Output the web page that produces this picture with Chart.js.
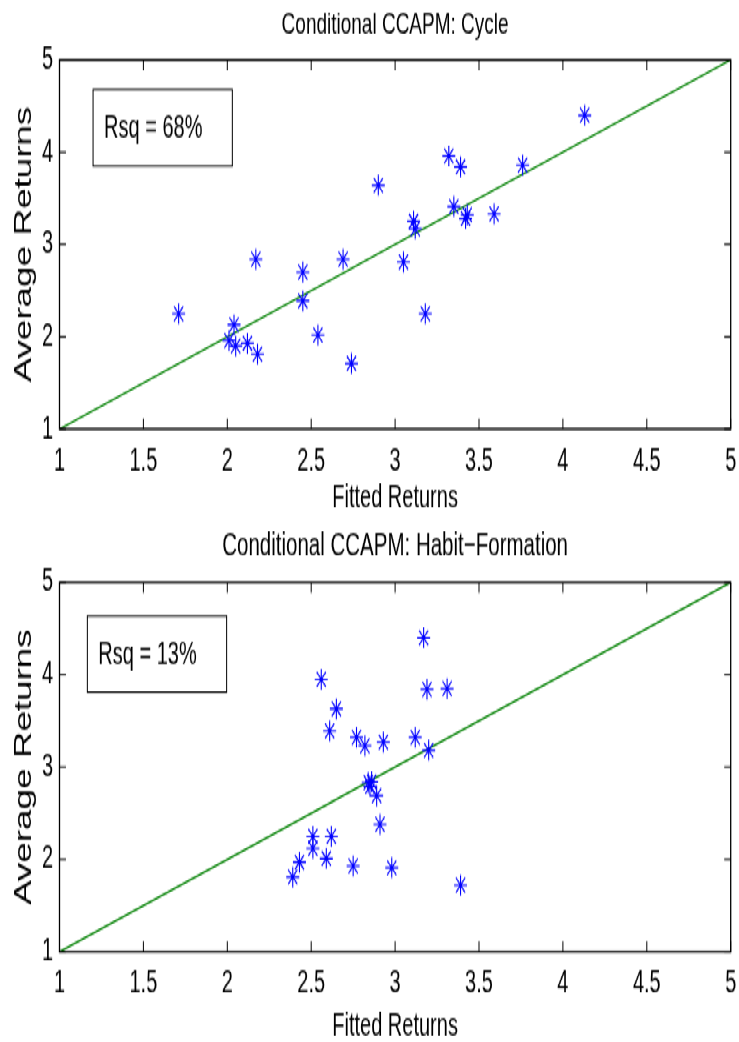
<!DOCTYPE html>
<html>
<head>
<meta charset="utf-8">
<script src="https://cdn.jsdelivr.net/npm/chart.js@4.4.0/dist/chart.umd.min.js"></script>
<style>
  html, body { margin: 0; padding: 0; background: #fff; width: 739px; height: 1042px; overflow: hidden; }
  /* the figure is drawn at 739x651 and stretched vertically like the exported plot */
  #figure { width: 739px; height: 651px; transform: scaleY(1.6006); transform-origin: 0 0; }
  canvas { display: block; }
</style>
</head>
<body>
<div id="figure">
  <canvas id="cycle" width="739" height="326"></canvas>
  <canvas id="habit" width="739" height="325"></canvas>
</div>
<script>
// Conditional CCAPM, cycle specification
const cycleFitted  = [1.71, 2.01, 2.04, 2.05, 2.12, 2.18, 2.17, 2.45, 2.45, 2.54, 2.69, 2.74, 2.90,
                      3.05, 3.18, 3.11, 3.12, 3.32, 3.39, 3.35, 3.42, 3.43, 3.59, 3.76, 4.13];
const cycleAverage = [2.25, 1.96, 2.13, 1.90, 1.93, 1.81, 2.84, 2.70, 2.39, 2.02, 2.84, 1.71, 3.64,
                      2.81, 2.25, 3.25, 3.17, 3.96, 3.84, 3.41, 3.28, 3.32, 3.33, 3.86, 4.40];

// Conditional CCAPM, habit-formation specification
const habitFitted  = [3.17, 2.56, 2.65, 2.61, 3.19, 3.31, 2.77, 2.82, 2.93, 3.12, 3.20, 2.84, 2.86,
                      2.85, 2.89, 2.91, 2.51, 2.62, 2.51, 2.59, 2.43, 2.39, 2.75, 2.98, 3.39];
const habitAverage = [4.40, 3.95, 3.63, 3.39, 3.84, 3.85, 3.32, 3.23, 3.27, 3.32, 3.18, 2.83, 2.84,
                      2.79, 2.69, 2.38, 2.25, 2.25, 2.12, 2.01, 1.97, 1.81, 1.93, 1.91, 1.72];

const xTicks = [1, 1.5, 2, 2.5, 3, 3.5, 4, 4.5, 5];
const yTicks = [1, 2, 3, 4, 5];
const FONT = "'Liberation Sans', Arial, Helvetica, sans-serif";

// box, inward ticks on all four sides, title and the Rsq text box
const matlabAxes = {
  id: 'matlabAxes',
  afterDatasetsDraw(chart, args, opts) {
    const { ctx, chartArea: a, scales: { x, y } } = chart;
    const tick = 6.5;
    ctx.save();
    ctx.strokeStyle = '#000';
    ctx.lineWidth = 1;
    ctx.beginPath();
    xTicks.forEach(v => {
      const px = x.getPixelForValue(v);
      ctx.moveTo(px, a.bottom); ctx.lineTo(px, a.bottom - tick);
      ctx.moveTo(px, a.top);    ctx.lineTo(px, a.top + tick);
    });
    yTicks.forEach(v => {
      const py = y.getPixelForValue(v);
      ctx.moveTo(a.left, py);  ctx.lineTo(a.left + tick, py);
      ctx.moveTo(a.right, py); ctx.lineTo(a.right - tick, py);
    });
    ctx.stroke();
    ctx.lineWidth = 1.3;
    ctx.strokeRect(a.left, a.top, a.right - a.left, a.bottom - a.top);

    // Rsq annotation
    const bx0 = x.getPixelForValue(opts.box[0]), bx1 = x.getPixelForValue(opts.box[1]);
    const by0 = y.getPixelForValue(opts.box[2]), by1 = y.getPixelForValue(opts.box[3]);
    ctx.lineWidth = 1;
    ctx.strokeRect(bx0, by0, bx1 - bx0, by1 - by0);
    ctx.fillStyle = '#000';
    ctx.font = '20px ' + FONT;
    ctx.textAlign = 'left';
    ctx.textBaseline = 'middle';
    ctx.fillText(opts.label, bx0 + 11, (by0 + by1) / 2 + 1);

    // title
    ctx.font = opts.titleSize + 'px ' + FONT;
    ctx.textAlign = 'center';
    ctx.textBaseline = 'alphabetic';
    ctx.fillText(opts.title, (a.left + a.right) / 2, opts.titleY);
    ctx.restore();
  }
};

function makeChart(id, fitted, average, cfg) {
  const points = fitted.map((v, i) => ({ x: v, y: average[i] }));
  return new Chart(document.getElementById(id), {
    data: {
      datasets: [
        {
          type: 'line',
          data: [{ x: 1, y: 1 }, { x: 5, y: 5 }],
          borderColor: '#008000',
          borderWidth: 1.3,
          pointRadius: 0,
          order: 2
        },
        {
          type: 'scatter',
          data: points,
          pointStyle: 'star',
          pointRadius: 6.5,
          borderColor: '#0000ff',
          backgroundColor: '#0000ff',
          pointBorderWidth: 1.1,
          order: 1
        }
      ]
    },
    options: {
      responsive: false,
      animation: false,
      devicePixelRatio: 1,
      layout: { padding: { top: cfg.top, right: 8.3, bottom: 0, left: 0 } },
      plugins: {
        legend: { display: false },
        tooltip: { enabled: false },
        matlabAxes: { title: cfg.title, titleSize: cfg.titleSize, titleY: cfg.titleY, label: cfg.label, box: cfg.box }
      },
      scales: {
        x: {
          type: 'linear', min: 1, max: 5,
          afterBuildTicks: s => { s.ticks = xTicks.map(v => ({ value: v })); },
          afterFit: s => { s.height = cfg.xAxisHeight; s.paddingLeft = 0; s.paddingRight = 0; },
          grid: { display: false, drawTicks: false },
          border: { display: false },
          ticks: { color: '#000', font: { family: FONT, size: 20 }, padding: 8, maxRotation: 0, autoSkip: false,
                   callback: v => String(v) },
          title: { display: true, text: 'Fitted Returns', color: '#000',
                   font: { family: FONT, size: 20, lineHeight: 1 }, padding: { top: 0, bottom: cfg.xTitlePad } }
        },
        y: {
          type: 'linear', min: 1, max: 5,
          afterBuildTicks: s => { s.ticks = yTicks.map(v => ({ value: v })); },
          afterFit: s => { s.width = 59.5; },
          grid: { display: false, drawTicks: false },
          border: { display: false },
          ticks: { color: '#000', font: { family: FONT, size: 20 }, padding: 6.5, callback: v => String(v) },
          title: { display: true, text: 'Average Returns', color: '#000',
                   font: { family: FONT, size: 23 }, padding: { top: 11.2, bottom: 0 } }
        }
      }
    },
    plugins: [matlabAxes]
  });
}

makeChart('cycle', cycleFitted, cycleAverage, {
  top: 37.5, xAxisHeight: 326 - 268.0, xTitlePad: 5,
  title: 'Conditional CCAPM: Cycle', titleSize: 19, titleY: 20.8,
  label: 'Rsq = 68%', box: [1.20, 2.03, 4.68, 3.85]
});

makeChart('habit', habitFitted, habitAverage, {
  top: 37.9, xAxisHeight: 325 - 268.6, xTitlePad: 0,
  title: 'Conditional CCAPM: Habit\u2212Formation', titleSize: 20.5, titleY: 21.4,
  label: 'Rsq = 13%', box: [1.166, 1.996, 4.637, 3.81]
});
</script>
</body>
</html>
